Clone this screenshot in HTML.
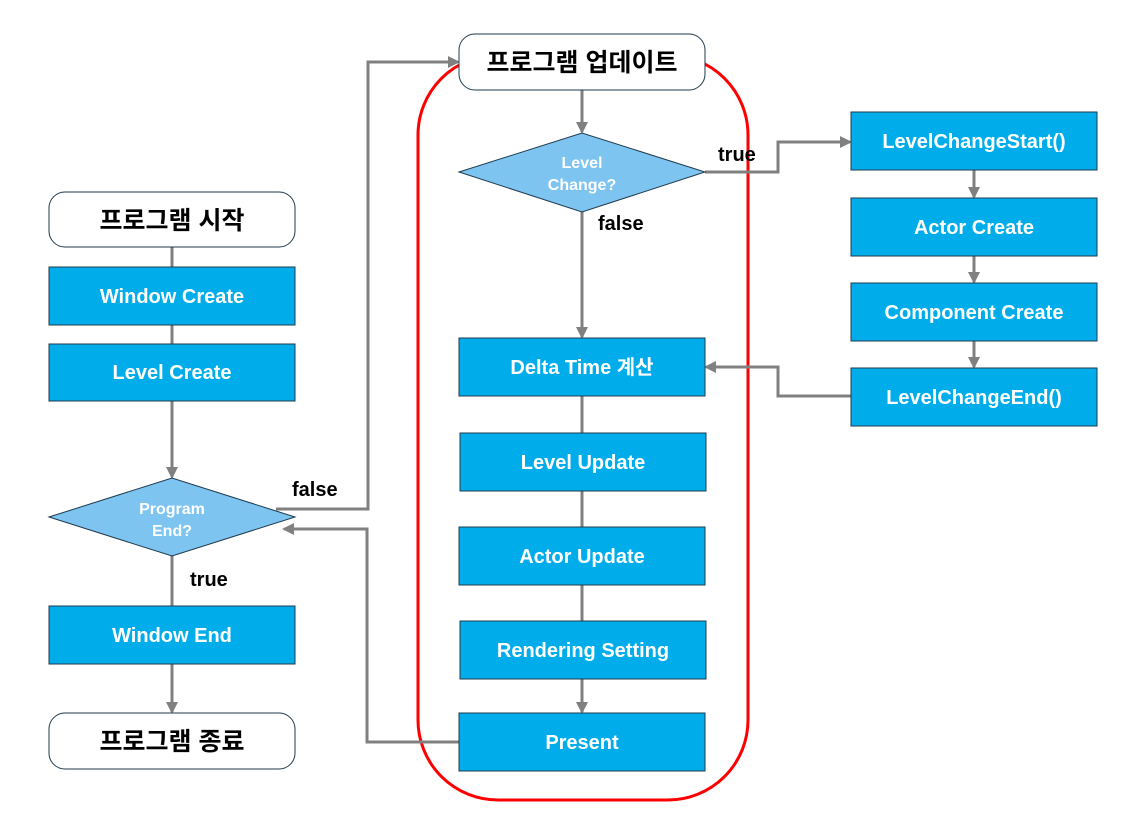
<!DOCTYPE html>
<html><head><meta charset="utf-8"><style>
body{margin:0;background:#fff}
svg text{font-family:"Liberation Sans","Noto Sans CJK KR",sans-serif;font-weight:bold}
</style></head><body>
<svg width="1141" height="832" viewBox="0 0 1141 832" xmlns="http://www.w3.org/2000/svg">
<defs><marker id="a" markerWidth="12" markerHeight="12" refX="10" refY="6" orient="auto" markerUnits="userSpaceOnUse"><path d="M0,0 L12,6 L0,12 z" fill="#808080"/></marker></defs>
<rect x="418" y="55" width="330" height="745" rx="80" fill="none" stroke="#ff0000" stroke-width="3"/>
<g stroke="#808080" stroke-width="3" fill="none">
<line x1="172" y1="247" x2="172" y2="267"/>
<line x1="172" y1="325" x2="172" y2="344"/>
<line x1="172" y1="401" x2="172" y2="477" marker-end="url(#a)"/>
<line x1="172" y1="556" x2="172" y2="606"/>
<line x1="172" y1="664" x2="172" y2="712" marker-end="url(#a)"/>
<polyline points="276,509 368,509 368,62 458,62" marker-end="url(#a)"/>
<polyline points="459,742 367,742 367,529 284,529" marker-end="url(#a)"/>
<line x1="582" y1="90" x2="582" y2="132" marker-end="url(#a)"/>
<line x1="582" y1="212" x2="582" y2="337" marker-end="url(#a)"/>
<line x1="582" y1="396" x2="582" y2="433"/>
<line x1="582" y1="491" x2="582" y2="527"/>
<line x1="582" y1="585" x2="582" y2="621"/>
<line x1="582" y1="679" x2="582" y2="712" marker-end="url(#a)"/>
<polyline points="705,172 778,172 778,142 850,142" marker-end="url(#a)"/>
<polyline points="851,396 778,396 778,367 706,367" marker-end="url(#a)"/>
<line x1="974" y1="170" x2="974" y2="197" marker-end="url(#a)"/>
<line x1="974" y1="256" x2="974" y2="282" marker-end="url(#a)"/>
<line x1="974" y1="341" x2="974" y2="367" marker-end="url(#a)"/>
</g>
<g stroke="#1f3a4d" stroke-width="1">
<rect x="49" y="192" width="246" height="55" rx="16" fill="#fff"/>
<rect x="49" y="713" width="246" height="56" rx="16" fill="#fff"/>
<rect x="459" y="34" width="246" height="56" rx="16" fill="#fff"/>
<g fill="#00adea">
<rect x="49" y="267" width="246" height="58"/>
<rect x="49" y="344" width="246" height="57"/>
<rect x="49" y="606" width="246" height="58"/>
<rect x="459" y="338" width="246" height="58"/>
<rect x="460" y="433" width="246" height="58"/>
<rect x="459" y="527" width="246" height="58"/>
<rect x="460" y="621" width="246" height="58"/>
<rect x="459" y="713" width="246" height="58"/>
<rect x="851" y="112" width="246" height="58"/>
<rect x="851" y="198" width="246" height="58"/>
<rect x="851" y="283" width="246" height="58"/>
<rect x="851" y="368" width="246" height="58"/>
</g>
<polygon points="49,517 172,478 295,517 172,556" fill="#7dc4f1"/>
<polygon points="459,172 582,133 705,172 582,212" fill="#7dc4f1"/>
</g>
<g font-size="25" fill="#000" text-anchor="middle">
<text x="172" y="229">프로그램 시작</text>
<text x="172" y="750">프로그램 종료</text>
<text x="582" y="71">프로그램 업데이트</text>
</g>
<g font-size="20" fill="#fff" text-anchor="middle">
<text x="172" y="303">Window Create</text>
<text x="172" y="379">Level Create</text>
<text x="172" y="642">Window End</text>
<text x="582" y="374">Delta Time 계산</text>
<text x="583" y="469">Level Update</text>
<text x="582" y="563">Actor Update</text>
<text x="583" y="657">Rendering Setting</text>
<text x="582" y="749">Present</text>
<text x="974" y="148">LevelChangeStart()</text>
<text x="974" y="234">Actor Create</text>
<text x="974" y="319">Component Create</text>
<text x="974" y="404">LevelChangeEnd()</text>
</g>
<g font-size="16" fill="#fff" text-anchor="middle">
<text x="172" y="514">Program</text>
<text x="172" y="536">End?</text>
<text x="582" y="168">Level</text>
<text x="582" y="190">Change?</text>
</g>
<g font-size="20" fill="#000">
<text x="292" y="496">false</text>
<text x="190" y="586">true</text>
<text x="718" y="161">true</text>
<text x="598" y="230">false</text>
</g>
</svg>
</body></html>
